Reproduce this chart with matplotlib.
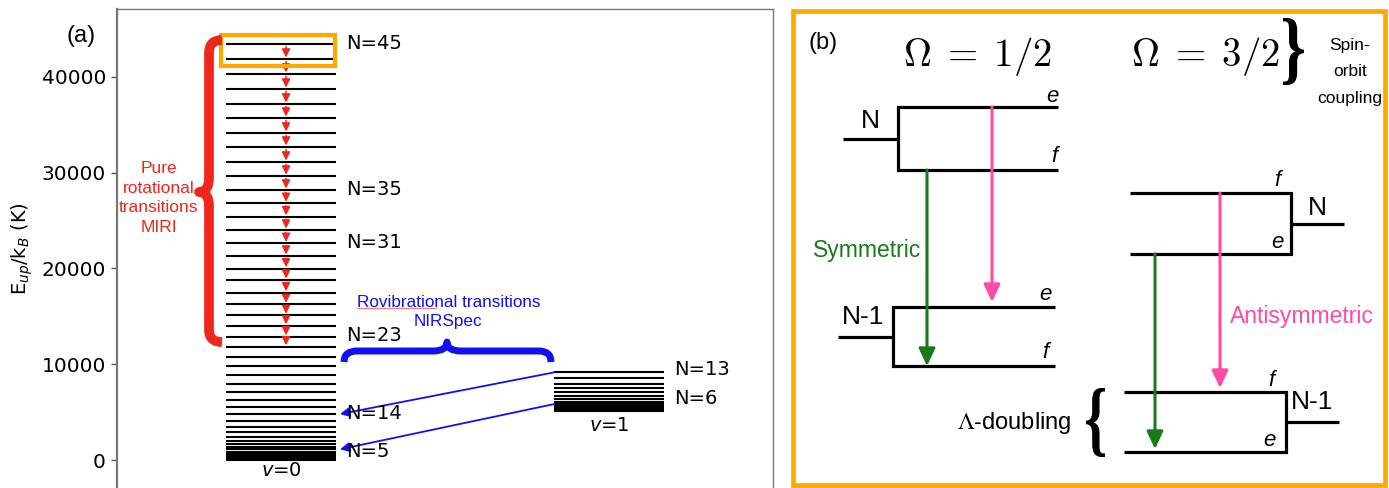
import matplotlib
matplotlib.use("Agg")
import matplotlib.pyplot as plt
from matplotlib.path import Path
from matplotlib.patches import PathPatch, Rectangle
from matplotlib.textpath import TextPath
from matplotlib.font_manager import FontProperties
from matplotlib.transforms import Affine2D

# ---- panel (a) data: upper state energies (K) ----
N_v0 = list(range(46))
E_v0 = [0, 100, 260, 420, 630, 840, 1120, 1390, 1670, 2010,
        2430, 2920, 3480, 4100, 4800, 5500, 6260, 7070, 7930, 8870,
        9810, 10790, 11830, 12870, 14020, 15110, 16250, 17470, 18790, 19970,
        21300, 22620, 24010, 25400, 26800, 28190, 29650, 31110, 32680, 34140,
        35700, 37170, 38730, 40300, 41860, 43430]
N_v1 = list(range(14))
E_v1 = [5116, 5220, 5324, 5460, 5638, 5846, 6087, 6368, 6682, 7068,
        7485, 7966, 8529, 9156]

labels_v0 = [45, 35, 31, 23, 14, 5]
labels_v1 = [13, 6]
rot_upper = list(range(45, 22, -1))      # pure rotational N -> N-1
rovib = [(13, 14), (5, 6)]               # (v=1 N, v=0 N)
yticks = [0, 10000, 20000, 30000, 40000]

# ---- panel (b) schematic, in image pixel units ----
# each box: x_left, x_right, y_top, y_bottom, side of connector, stub end
boxes_b = [(898, 1058, 107, 170, "left", 843),
           (893, 1055, 307, 366, "left", 838),
           (1130, 1291, 193, 254, "right", 1344),
           (1124, 1286, 392, 452, "right", 1339)]
arrows_b = [(927, 170, 366, "#187a18"), (992, 107, 302, "#ff4aa6"),
            (1155, 254, 449, "#187a18"), (1220, 193, 388, "#ff4aa6")]
parity_b = [("e", 1052, 96), ("f", 1054, 157), ("e", 1045, 294), ("f", 1045, 353),
            ("f", 1277, 181), ("e", 1277, 242), ("f", 1271, 380), ("e", 1269, 440)]
nlab_b = [("N", 870, 121), ("N-1", 863, 317), ("N", 1317, 208), ("N-1", 1312, 402)]

W, H = 1389, 488
RED = "#f0261a"
BLUE = "#1010f0"
ORANGE = "#ffa800"
SANS = "Liberation Sans"

fig = plt.figure(figsize=(W / 100, H / 100), dpi=100)

# axes for (a): y scale 95.8 px per 10000 K, top edge at y=9 px
px_per_K = 95.8 / 10000
E_top, E_bot = 47080, -5000
ax_h = (E_top - E_bot) * px_per_K
ax = fig.add_axes([117 / W, 1 - (9 + ax_h) / H, 656 / W, ax_h / H])
ax.set_xlim(0, 6)
ax.set_ylim(E_bot, E_top)

ax.hlines(E_v0, 1, 2, color="k", lw=1.5)
ax.hlines(E_v1, 4, 5, color="k", lw=1.5)

for n in rot_upper:
    ax.annotate("", xy=(1.546, E_v0[n - 1] + 150), xytext=(1.546, E_v0[n] - 250),
                arrowprops=dict(arrowstyle="-|>,head_length=0.55,head_width=0.27",
                                mutation_scale=9, lw=1.1, color=RED,
                                shrinkA=0, shrinkB=0))

for up, lo in rovib:
    ax.annotate("", xy=(2.04, E_v0[lo]), xytext=(4.0, E_v1[up]),
                arrowprops=dict(arrowstyle="-|>,head_length=0.5,head_width=0.25",
                                mutation_scale=11, lw=1.3, color=BLUE,
                                shrinkA=0, shrinkB=0))

for n in labels_v0:
    ax.text(2.1, E_v0[n] + 100, f"N={n}", va="center", fontsize=14)
for n in labels_v1:
    ax.text(5.1, E_v1[n] + 300, f"N={n}", va="center", fontsize=14)
ax.text(1.5, -1100, r"$v$=0", ha="center", va="center", fontsize=14)
ax.text(4.5, 3600, r"$v$=1", ha="center", va="center", fontsize=14)

ax.add_patch(Rectangle((0.95, 41130), 1.045, 3240, fill=False, ec=ORANGE, lw=3, zorder=3))

ax.text(0.384, 27350, "Pure\nrotational\ntransitions\nMIRI", color=RED, ha="center",
        va="center", fontsize=12.5, family=SANS, linespacing=1.38)
ax.text(3.03, 15450, "Rovibrational transitions\nNIRSpec", color=BLUE, ha="center",
        va="center", fontsize=12.3, family=SANS, linespacing=1.4)

ax.set_xticks([])
ax.set_yticks(yticks)
ax.tick_params(axis="y", labelsize=14.5, length=4.5, width=1, color="#555")
for s in ax.spines.values():
    s.set_color("#777")
    s.set_linewidth(1.0)
ax.spines["left"].set_linewidth(1.6)

fig.text(22 / W, 1 - 249 / H, r"E$_{up}$/k$_B$ (K)", rotation=90, ha="center",
         va="center", fontsize=14)
fig.text(81 / W, 1 - 36 / H, "(a)", ha="center", va="center", fontsize=17, family=SANS)

# overlay in pixel units for braces and the schematic panel
ov = fig.add_axes([0, 0, 1, 1])
ov.set_xlim(0, W)
ov.set_ylim(H, 0)
ov.axis("off")


def drawn_brace(verts, codes, color, lw):
    ov.add_patch(PathPatch(Path(verts, codes), fill=False, ec=color, lw=lw,
                           capstyle="butt", joinstyle="round"))


C3, L, M = Path.CURVE3, Path.LINETO, Path.MOVETO
drawn_brace([(222, 40), (209, 40), (209, 53), (209, 178), (209, 192), (199, 192),
             (209, 192), (209, 206), (209, 330), (209, 342), (222, 342)],
            [M, C3, C3, L, C3, C3, C3, C3, L, C3, C3], RED, 7)
drawn_brace([(344, 362), (344, 351), (357, 351), (433, 351), (447, 351), (447, 342),
             (447, 351), (461, 351), (539, 351), (551, 351), (551, 362)],
            [M, C3, C3, L, C3, C3, C3, C3, L, C3, C3], BLUE, 5)
ov.plot([357, 436], [308, 308], color="#f08080", lw=0.8)


def glyph_brace(ch, x0, x1, y0, y1):
    tp = TextPath((0, 0), ch, size=100, prop=FontProperties(family="Liberation Serif",
                                                             weight="bold"))
    bb = tp.get_extents()
    tr = (Affine2D().translate(-bb.x0, -bb.y0)
          .scale((x1 - x0) / bb.width, -(y1 - y0) / bb.height).translate(x0, y1))
    ov.add_patch(PathPatch(tr.transform_path(tp), fc="k", ec="none"))


# panel (b)
ov.add_patch(Rectangle((793, 10.5), 592, 474.5, fill=False, ec=ORANGE, lw=3.4))
ov.text(823, 43, "(b)", ha="center", va="center", fontsize=17, family=SANS)
ov.text(978, 56, r"$\Omega\;=\;1/2$", ha="center", va="center", fontsize=28,
        math_fontfamily="cm")
ov.text(1206, 56, r"$\Omega\;=\;3/2$", ha="center", va="center", fontsize=28,
        math_fontfamily="cm")
glyph_brace("}", 1283, 1304, 18, 85)
ov.text(1350, 72, "Spin-\norbit\ncoupling", ha="center", va="center", fontsize=12.5,
        family=SANS, linespacing=1.95)

for xl, xr, yt, yb, side, stub in boxes_b:
    xc = xl if side == "left" else xr
    xo = xr if side == "left" else xl
    ov.plot([xo, xc, xc, xo], [yt, yt, yb, yb], color="k", lw=2.3,
            solid_joinstyle="miter", solid_capstyle="butt")
    ov.plot([stub, xc], [(yt + yb) / 2] * 2, color="k", lw=2.3, solid_capstyle="butt")

for x, y0, y1, c in arrows_b:
    ov.annotate("", xy=(x, y1), xytext=(x, y0),
                arrowprops=dict(arrowstyle="-|>,head_length=0.7,head_width=0.33",
                                mutation_scale=15, lw=2.2, color=c,
                                shrinkA=0, shrinkB=0))

for t, x, y in parity_b:
    ov.text(x, y, t, ha="center", va="center", fontsize=16, family=SANS, style="italic")
for t, x, y in nlab_b:
    ov.text(x, y, t, ha="center", va="center", fontsize=19, family=SANS)

ov.text(867, 250, "Symmetric", color="#187a18", ha="center", va="center",
        fontsize=16.5, family=SANS)
ov.text(1302, 316, "Antisymmetric", color="#ff4aa6", ha="center", va="center",
        fontsize=16.5, family=SANS)
ov.text(1014, 423, r"$\Lambda$-doubling", ha="center", va="center", fontsize=17,
        family=SANS, math_fontfamily="stix")
glyph_brace("{", 1086, 1105, 388, 457)

fig.savefig("out.png", dpi=100)
